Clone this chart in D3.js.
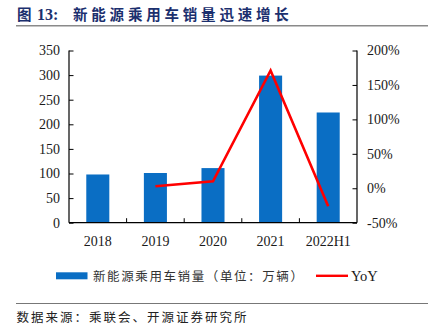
<!DOCTYPE html>
<html><head><meta charset="utf-8">
<script src="https://cdn.jsdelivr.net/npm/d3@7"></script>
<style>body{margin:0;background:#fff;}svg{display:block;}</style>
</head><body>
<svg id="c" width="430" height="333"></svg>
<script>
const categories = ["2018","2019","2020","2021","2022H1"];
const sales = [98, 101, 111, 299, 224];
const yoyCats = ["2019","2020","2021","2022H1"];
const yoy = [3, 10, 171, -26];
const leftTicks = [0,50,100,150,200,250,300,350];
const rightTicks = [-50,0,50,100,150,200];
const titleParts = ["图","13：","新能源乘用车销量迅速增长"];
const legendBar = "新能源乘用车销量（单位：万辆）";
const legendLine = "YoY";
const sourceText = "数据来源：乘联会、开源证券研究所";

const svg = d3.select("#c");
const L = 69, R = 357, T = 50.5, B = 222.7;
const serif = "'Liberation Serif','Times New Roman',serif";
const cjk = "'Noto Sans CJK SC','Noto Sans CJK JP',sans-serif";

// title
const tt = svg.append("text").attr("y",19.5).attr("fill","#1b2f6e")
  .attr("font-family",cjk).attr("font-weight","bold").attr("font-size",14.5);
tt.append("tspan").attr("x",17).text(titleParts[0]);
tt.append("tspan").attr("x",37).attr("font-family",serif).attr("font-size",16).text("13:");
tt.append("tspan").attr("x",73).attr("letter-spacing",3.8).text(titleParts[2]);
svg.append("line").attr("x1",16).attr("x2",428).attr("y1",25.8).attr("y2",25.8)
  .attr("stroke","#8a8a8a").attr("stroke-width",1.5);

const x = d3.scaleBand().domain(categories).range([L,R]).paddingInner(0.6).paddingOuter(0.3);
const xb = d3.scaleBand().domain(categories).range([L,R]);
const yL = d3.scaleLinear().domain([0,350]).range([B,T]);
const yR = d3.scaleLinear().domain([-50,200]).range([B,T]);

// bars
svg.append("g").selectAll("rect").data(categories).join("rect")
  .attr("x",d=>x(d)).attr("width",x.bandwidth())
  .attr("y",(d,i)=>yL(sales[i])).attr("height",(d,i)=>B-yL(sales[i]))
  .attr("fill","#0a6ec4");

// axes
const gL = svg.append("g").attr("transform",`translate(${L},0)`)
  .call(d3.axisLeft(yL).tickValues(leftTicks).tickSize(-4.5).tickPadding(9).tickFormat(d3.format("d")));
const gR = svg.append("g").attr("transform",`translate(${R},0)`)
  .call(d3.axisRight(yR).tickValues(rightTicks).tickSize(-4.5).tickPadding(10).tickFormat(d=>d+"%"));
const gX = svg.append("g").attr("transform",`translate(0,${B})`)
  .call(d3.axisBottom(xb).tickSize(0).tickPadding(13));
svg.append("g").selectAll("line").data(categories.slice(1)).join("line")
  .attr("x1",d=>xb(d)).attr("x2",d=>xb(d)).attr("y1",B).attr("y2",B-4.5)
  .attr("stroke","#000").attr("stroke-width",1);
[gL,gR,gX].forEach(g=>{
  g.selectAll(".domain").attr("stroke","#000").attr("stroke-width",1.2);
  g.selectAll(".tick line").attr("stroke","#000");
  g.selectAll("text").attr("font-family",serif).attr("font-size",14).attr("fill","#1a1a1a");
});
gL.select(".domain").attr("d",`M0,${T}V${B}`);
gR.select(".domain").attr("d",`M0,${T}V${B}`);
gX.select(".domain").attr("d",`M${L},0H${R}`);

// line
const line = d3.line().x(d=>xb(d[0])+xb.bandwidth()/2).y(d=>yR(d[1]));
svg.append("path").datum(yoyCats.map((c,i)=>[c,yoy[i]]))
  .attr("d",line).attr("fill","none").attr("stroke","#ff0000").attr("stroke-width",2.6)
  .attr("stroke-linejoin","miter");

// legend
svg.append("rect").attr("x",56).attr("y",272.3).attr("width",31.5).attr("height",7).attr("fill","#0a6ec4");
svg.append("text").attr("x",93).attr("y",281).attr("font-family",cjk).attr("font-size",12.5)
  .attr("letter-spacing",1.6).attr("fill","#333").text(legendBar);
svg.append("line").attr("x1",316).attr("x2",348).attr("y1",275.8).attr("y2",275.8)
  .attr("stroke","#ff0000").attr("stroke-width",2.4);
svg.append("text").attr("x",351).attr("y",281).attr("font-family",serif).attr("font-size",14.5)
  .attr("fill","#1a1a1a").text(legendLine);

// source
svg.append("line").attr("x1",16).attr("x2",428).attr("y1",303.5).attr("y2",303.5)
  .attr("stroke","#777").attr("stroke-width",1.2);
svg.append("text").attr("x",16.5).attr("y",322).attr("font-family",cjk).attr("font-size",12.5)
  .attr("letter-spacing",2).attr("fill","#222").text(sourceText);
</script>
</body></html>
